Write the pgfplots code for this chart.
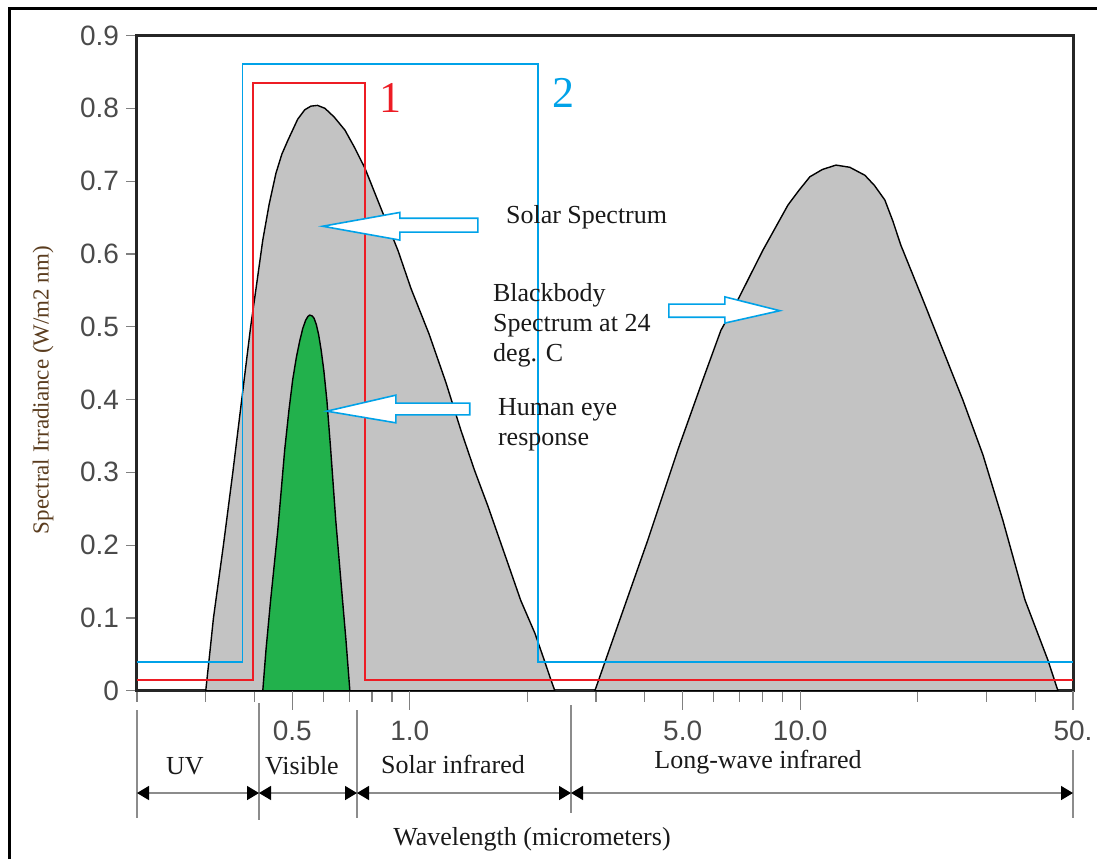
\documentclass[border=0pt]{standalone}
\usepackage{pgfplots}
\pgfplotsset{compat=1.18}
\usepackage{fontspec}
\setmainfont{Liberation Serif}
\newfontfamily\tickfont{Liberation Sans}
\usetikzlibrary{arrows.meta}
\definecolor{sgray}{HTML}{C3C3C3}
\definecolor{egreen}{HTML}{22B14C}
\definecolor{pred}{HTML}{ED1C24}
\definecolor{pblue}{HTML}{00A2E8}
\definecolor{tickgray}{HTML}{4A4A4A}
\definecolor{ylab}{HTML}{5A3C1E}
\definecolor{sepgray}{HTML}{8C8C8C}

\pgfplotstableread{
lambda val
0.300 0
0.307 0.050
0.314 0.100
0.333 0.200
0.352 0.300
0.371 0.400
0.391 0.500
0.403 0.550
0.420 0.619
0.436 0.668
0.454 0.711
0.470 0.737
0.487 0.756
0.516 0.785
0.538 0.798
0.558 0.803
0.580 0.804
0.606 0.800
0.640 0.788
0.682 0.770
0.722 0.746
0.767 0.718
0.853 0.656
0.932 0.605
1.006 0.553
1.120 0.490
1.236 0.424
1.351 0.358
1.464 0.303
1.584 0.254
1.783 0.175
1.924 0.124
2.091 0.079
2.200 0.045
2.298 0.015
2.352 0
}\solar

\pgfplotstableread{
lambda val
0.420 0
0.428 0.056
0.440 0.125
0.459 0.221
0.478 0.331
0.490 0.385
0.501 0.427
0.512 0.458
0.523 0.482
0.532 0.498
0.541 0.509
0.548 0.514
0.554 0.516
0.561 0.515
0.568 0.512
0.576 0.503
0.584 0.489
0.593 0.467
0.602 0.440
0.613 0.399
0.627 0.331
0.646 0.234
0.669 0.138
0.686 0.070
0.702 0
}\eye

\pgfplotstableread{
lambda val
2.979 0
3.412 0.090
4.071 0.207
4.861 0.331
5.632 0.427
6.264 0.495
6.925 0.537
8.024 0.605
9.301 0.667
9.950 0.688
10.59 0.706
11.40 0.716
12.35 0.722
13.40 0.719
14.65 0.708
15.50 0.694
16.48 0.674
17.28 0.645
18.11 0.612
20.63 0.537
23.21 0.468
26.12 0.399
29.39 0.324
33.06 0.234
37.65 0.125
43.12 0.042
45.74 0
}\blackbody

\begin{document}
\begin{tikzpicture}
\path[use as bounding box] (0,0) rectangle (548.5pt,-429.5pt);
\begin{axis}[
  at={(68.5pt,-345.35pt)}, anchor=south west,
  scale only axis, width=468pt, height=327.6pt,
  xmode=log, xmin=0.2, xmax=50, ymin=0, ymax=0.9,
  axis line style={line width=1.5pt, black!85},
  tick align=outside,
  xtick pos=lower, ytick pos=left,
  xtick={0.2,0.3,0.4,0.6,0.7,0.8,0.9,2,3,4,6,7,8,9,20,30,40},
  xticklabels={},
  extra x ticks={0.5,1,5,10,50},
  extra x tick labels={0.5,1.0,5.0,10.0,50.},
  extra x tick style={major tick length=9.5pt, xtick pos=lower, tick label style={yshift=-2pt}},
  ytick={0,0.1,0.2,0.3,0.4,0.5,0.6,0.7,0.8,0.9},
  yticklabels={0,0.1,0.2,0.3,0.4,0.5,0.6,0.7,0.8,0.9},
  major tick length=5.5pt,
  every tick/.style={black!50, line width=0.6pt},
  ticklabel style={font=\tickfont\fontsize{14}{14}\selectfont, text=tickgray},
]
\addplot[fill=sgray, draw=black, line width=0.7pt, line join=round] table[x=lambda,y=val] {\solar} \closedcycle;
\addplot[fill=sgray, draw=black, line width=0.7pt, line join=round] table[x=lambda,y=val] {\blackbody} \closedcycle;
\addplot[fill=egreen, draw=black, line width=0.7pt, line join=round] table[x=lambda,y=val] {\eye} \closedcycle;
\addplot[pred, line width=0.8pt, mark=none] coordinates {(0.2,0.0147) (0.396,0.0147) (0.396,0.835) (0.767,0.835) (0.767,0.0147) (50,0.0147)};
\addplot[pblue, line width=0.8pt, mark=none] coordinates {(0.2,0.0394) (0.373,0.0394) (0.373,0.861) (2.128,0.861) (2.128,0.0394) (50,0.0394)};
% block arrows
\draw[pblue, fill=white, line width=0.8pt] (axis cs:0.598,0.638) -- (axis cs:0.943,0.657) -- (axis cs:0.943,0.649) -- (axis cs:1.494,0.649) -- (axis cs:1.494,0.630) -- (axis cs:0.943,0.630) -- (axis cs:0.943,0.619) -- cycle;
\draw[pblue, fill=white, line width=0.8pt] (axis cs:8.872,0.522) -- (axis cs:6.413,0.541) -- (axis cs:6.413,0.531) -- (axis cs:4.610,0.531) -- (axis cs:4.610,0.513) -- (axis cs:6.413,0.513) -- (axis cs:6.413,0.505) -- cycle;
\draw[pblue, fill=white, line width=0.8pt] (axis cs:0.613,0.384) -- (axis cs:0.921,0.406) -- (axis cs:0.921,0.395) -- (axis cs:1.424,0.395) -- (axis cs:1.424,0.379) -- (axis cs:0.921,0.379) -- (axis cs:0.921,0.368) -- cycle;
\end{axis}
\begin{scope}[x=0.5pt,y=-0.5pt]
\draw[line width=1.5pt] (9,859) -- (9,8) -- (1097,8);
\draw[sepgray, line width=0.7pt] (137,710) -- (137,818);
\draw[sepgray, line width=0.7pt] (259,703) -- (259,820);
\draw[sepgray, line width=0.7pt] (357,710) -- (357,818);
\draw[sepgray, line width=0.7pt] (571,705) -- (571,813);
\draw[sepgray, line width=0.7pt] (1073,750) -- (1073,818);
\tikzset{dimarr/.style={sepgray, line width=0.7pt, {Triangle[length=6pt,width=7pt,color=black]}-{Triangle[length=6pt,width=7pt,color=black]}}}
\draw[dimarr] (137,793) -- (259,793);
\draw[dimarr] (259,793) -- (357,793);
\draw[dimarr] (357,793) -- (571,793);
\draw[dimarr] (571,793) -- (1073,793);
\tikzset{lbl/.style={font=\fontsize{13}{15}\selectfont, text=black!90}}
\node[lbl] at (185,766) {UV};
\node[lbl] at (302,766) {Visible};
\node[lbl] at (453,764) {Solar infrared};
\node[lbl] at (758,762) {Long-wave infrared};
\node[lbl] at (532,839) {Wavelength (micrometers)};
\node[lbl, anchor=west] at (499,217) {Solar Spectrum};
\node[lbl, anchor=west, align=left] at (486,325) {Blackbody\\Spectrum at 24\\deg. C};
\node[lbl, anchor=west, align=left] at (491,425) {Human eye\\response};
\node[text=pred, font=\fontsize{22}{22}\selectfont] at (390,98) {1};
\node[text=pblue, font=\fontsize{22}{22}\selectfont] at (563,93) {2};
\node[rotate=90, font=\fontsize{11.5}{12}\selectfont, text=ylab] at (43,390) {Spectral Irradiance (W/m2 nm)};
\end{scope}
\end{tikzpicture}
\end{document}
